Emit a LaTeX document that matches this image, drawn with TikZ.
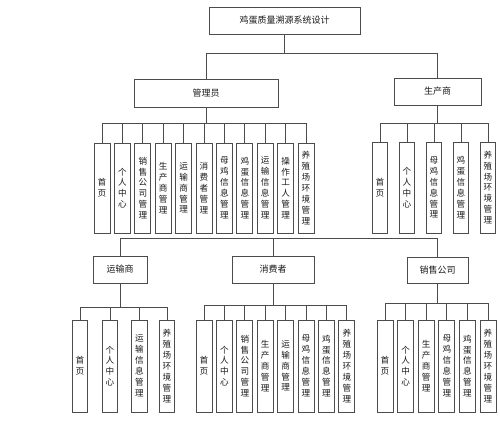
\documentclass[tikz,border=0pt]{standalone}
\usepackage{fontspec}
\setmainfont{Noto Sans CJK SC}
\usepackage{tikz}

\tikzset{
    link/.style={draw=black!70, line width=0.8pt},
    headbox/.style={draw=black!70, line width=0.8pt, inner sep=0pt, text=black!90,
        font=\fontsize{9}{10}\selectfont},
    leafbox/.style={draw=black!70, line width=0.8pt, inner sep=0pt, align=center,
        minimum width=16pt, minimum height=90pt, text=black!90,
        font=\fontsize{8.6}{10.9}\selectfont},
}

\begin{document}
\begin{tikzpicture}[x=1pt, y=-1pt]
        \useasboundingbox (0,0) rectangle (500,424);
        % top levels
        \node[headbox, minimum width=151pt, minimum height=27pt] (title) at (284.5, 20.5) {鸡蛋质量溯源系统设计};
        \node[headbox, minimum width=144pt, minimum height=28pt] (admin) at (206, 93)    {管理员};
        \node[headbox, minimum width=87pt,  minimum height=27pt] (prod)  at (437.5, 91.5) {生产商};
        \draw[link] (title.south) -- ++(0,19) -| (admin.north);
        \draw[link] (title.south) ++(0,19) -| (prod.north);

        % admin functions
        \foreach \txt [count=\i from 0] in {首\\页, 个\\人\\中\\心, 销\\售\\公\\司\\管\\理,
                生\\产\\商\\管\\理, 运\\输\\商\\管\\理, 消\\费\\者\\管\\理, 母\\鸡\\信\\息\\管\\理,
                鸡\\蛋\\信\\息\\管\\理, 运\\输\\信\\息\\管\\理, 操\\作\\工\\人\\管\\理,
                养\\殖\\场\\环\\境\\管\\理} {
            \node[leafbox] (adm-\i) at (102+20.4*\i, 188) {\txt};
            \draw[link] (admin.south) -- ++(0,16) -| (adm-\i.north);
        }

        % producer functions
        \foreach \txt [count=\i from 0] in {首\\页, 个\\人\\中\\心, 母\\鸡\\信\\息\\管\\理,
                鸡\\蛋\\信\\息\\管\\理, 养\\殖\\场\\环\\境\\管\\理} {
            \node[leafbox, minimum width=15pt, minimum height=91pt] (prd-\i) at (380+27*\i, 187.5) {\txt};
            \draw[link] (prod.south) -- ++(0,18) -| (prd-\i.north);
        }

        % second row of roles
        \node[headbox, minimum width=54pt, minimum height=27pt] (trans) at (120, 269.5)   {运输商};
        \node[headbox, minimum width=82pt, minimum height=27pt] (cons)  at (273, 269.5)   {消费者};
        \node[headbox, minimum width=61pt, minimum height=26pt] (sales) at (437.5, 270)   {销售公司};
        \coordinate (midbus) at (273, 238.5);
        \draw[link] (trans.north) |- (midbus) -| (sales.north);
        \draw[link] (cons.north) -- (cons.north |- midbus);

        % transport functions
        \foreach \txt/\xx [count=\i from 0] in {首\\页/80, 个\\人\\中\\心/110,
                运\\输\\信\\息\\管\\理/139.5, 养\\殖\\场\\环\\境\\管\\理/167} {
            \node[leafbox, minimum width=15.5pt, minimum height=92pt] (trn-\i) at (\xx, 366) {\txt};
            \draw[link] (trans.south) -- ++(0,24) -| (trn-\i.north);
        }

        % consumer functions
        \foreach \txt [count=\i from 0] in {首\\页, 个\\人\\中\\心, 销\\售\\公\\司\\管\\理,
                生\\产\\商\\管\\理, 运\\输\\商\\管\\理, 母\\鸡\\信\\息\\管\\理,
                鸡\\蛋\\信\\息\\管\\理, 养\\殖\\场\\环\\境\\管\\理} {
            \node[leafbox, minimum height=92pt] (csm-\i) at (204+20.4*\i, 366) {\txt};
            \draw[link] (cons.south) -- ++(0,22) -| (csm-\i.north);
        }

        % sales functions
        \foreach \txt [count=\i from 0] in {首\\页, 个\\人\\中\\心, 生\\产\\商\\管\\理,
                母\\鸡\\信\\息\\管\\理, 鸡\\蛋\\信\\息\\管\\理, 养\\殖\\场\\环\\境\\管\\理} {
            \node[leafbox, minimum height=92pt] (sls-\i) at (385+20.6*\i, 366) {\txt};
            \draw[link] (sales.south) -- ++(0,20) -| (sls-\i.north);
        }
    \end{tikzpicture}
\end{document}
